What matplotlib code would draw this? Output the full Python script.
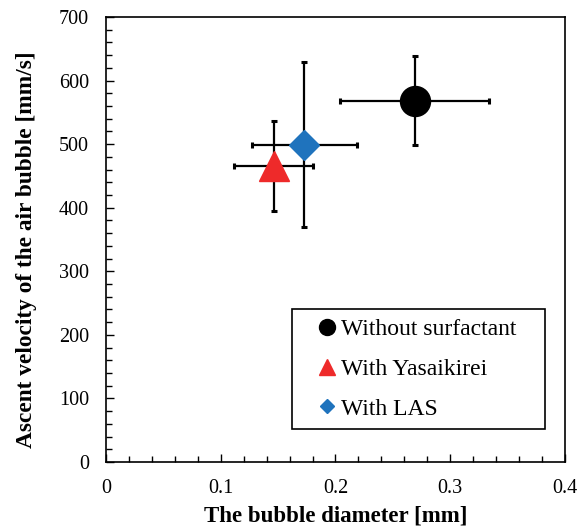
import matplotlib.pyplot as plt
from matplotlib.lines import Line2D
from matplotlib.ticker import MultipleLocator, FuncFormatter

plt.rcParams['font.family'] = ['Liberation Serif', 'DejaVu Serif']

labels = ['Without surfactant', 'With Yasaikirei', 'With LAS']
diameter = [0.269, 0.146, 0.173]
diameter_err = [0.065, 0.034, 0.046]
velocity = [568, 466, 499]
velocity_err = [70, 71, 130]
colors = ['black', '#ee2a2a', '#1f73bd']
markers = ['o', '^', 'D']
sizes = [21.6, 21.6, 15.3]
legend_sizes = [11.5, 11, 7.5]

fig = plt.figure(figsize=(5.85, 5.29), dpi=100)
ax = fig.add_axes([0.181, 0.1267, 0.785, 0.8413])

for i in range(len(labels)):
    ax.errorbar(diameter[i], velocity[i], xerr=diameter_err[i], yerr=velocity_err[i],
                fmt='none', ecolor='black', elinewidth=1.6, capsize=2.2, capthick=2.2, zorder=2)
for i in range(len(labels)):
    ax.plot(diameter[i], velocity[i], marker=markers[i], color=colors[i],
            markersize=sizes[i], linestyle='none', zorder=3)

ax.set_xlim(0, 0.4)
ax.set_ylim(0, 700)
ax.xaxis.set_major_locator(MultipleLocator(0.1))
ax.xaxis.set_minor_locator(MultipleLocator(0.02))
ax.yaxis.set_major_locator(MultipleLocator(100))
ax.yaxis.set_minor_locator(MultipleLocator(20))
ax.xaxis.set_major_formatter(FuncFormatter(lambda v, p: '%g' % v))
ax.tick_params(which='both', direction='in', labelsize=14.5, width=1)
ax.tick_params(which='major', length=6, pad=12)
ax.tick_params(which='minor', length=4)
for s in ax.spines.values():
    s.set_linewidth(1.2)

ax.set_xlabel('The bubble diameter [mm]', fontsize=16.5, fontweight='bold')
ax.set_ylabel('Ascent velocity of the air bubble [mm/s]', fontsize=16.8, fontweight='bold')
ax.xaxis.set_label_coords(0.5, -0.098)
ax.yaxis.set_label_coords(-0.15, 0.476)

handles = [Line2D([], [], marker=m, color=c, linestyle='none', markersize=s)
           for m, c, s in zip(markers, colors, legend_sizes)]
leg = ax.legend(handles, labels, loc='lower left', bbox_to_anchor=(0.405, 0.074, 0.551, 0.276),
                mode='expand', fontsize=17, fancybox=False, edgecolor='black', framealpha=1,
                handlelength=2.2, handletextpad=-0.5, labelspacing=0.77,
                borderpad=0.4, borderaxespad=0)
leg.get_frame().set_linewidth(1.2)

fig.savefig('out.png', dpi=100)
